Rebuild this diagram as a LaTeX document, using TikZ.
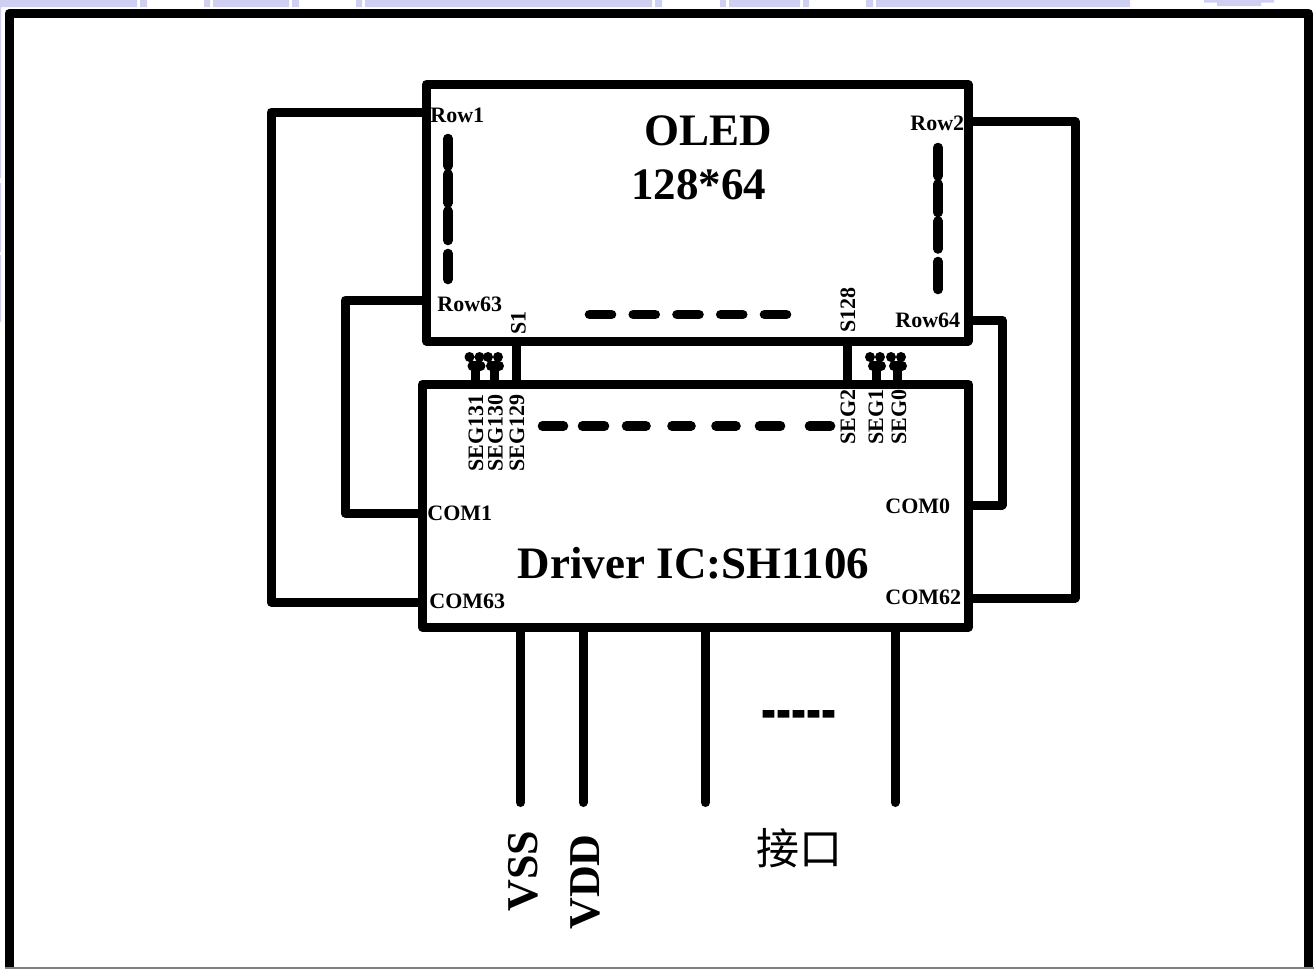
\documentclass[tikz,border=0pt]{standalone}
\usepackage{fontspec}
\setmainfont{Liberation Serif}
\newfontfamily\cjkfont{Noto Sans CJK SC}
\usetikzlibrary{positioning}
\definecolor{tabLilac}{HTML}{CFCFF2}
\tikzset{
  chip/.style={draw, line width=4.5pt, line join=round, outer sep=0pt, inner sep=0pt},
  wire/.style={draw, line width=4.5pt, line join=round},
  pin wire/.style={wire, line cap=round, shorten <=1pt},
  dash bar/.style={wire, line width=4.8pt, line cap=round},
  pin label/.style={inner sep=0pt, font=\fontsize{11}{12}\selectfont\bfseries},
  side label/.style={pin label, anchor=base west},
  up label/.style={pin label, anchor=base west, rotate=90},
  big label/.style={inner sep=0pt, font=\fontsize{22.5}{24}\selectfont\bfseries},
  supply label/.style={inner sep=0pt, anchor=base west, rotate=90, font=\fontsize{22}{24}\selectfont\bfseries},
  tab/.style={fill=tabLilac},
  stub end/.pic={
    \fill (-6,-4) circle (5) (4,-4) circle (5) (-3,5) circle (5) (5,5) circle (5);
  }
}
\begin{document}
\begin{tikzpicture}[x=0.5pt, y=-0.5pt]
  \useasboundingbox (0,0) rectangle (1314,969);
  % tabs along the top and left edge
  \fill[tab] (0,0) rectangle (137,7) (140,0) rectangle (147,7) (204,0) rectangle (210,7)
    (213,0) rectangle (289,7) (292,0) rectangle (299,7) (356,0) rectangle (362,7)
    (365,0) rectangle (652,7) (655,0) rectangle (662,7) (720,0) rectangle (726,7)
    (729,0) rectangle (800,7) (803,0) rectangle (809,7) (866,0) rectangle (873,7)
    (876,0) rectangle (1130,7) (1204,0) rectangle (1274,2.5) (1217,2.5) rectangle (1261,6)
    (0,0) rectangle (1,178) (0,183) rectangle (1,252) (0,255) rectangle (1,322);
  % outer frame
  \draw[wire] (9,969) -- (9,13.5) -- (1308.5,13.5) -- (1308.5,969);
  \draw[gray, line width=0.8pt] (5,968) -- (1314,968);

  \node[chip, minimum width=541.5*0.5pt, minimum height=256.5*0.5pt] (oled) at (697.25,212.75) {};
  \node[chip, minimum width=546*0.5pt, minimum height=242.5*0.5pt] (driver) at (695.5,505.75) {};

  \node[big label] (oledName) at (708.5,131) {OLED};
  \node[big label] (oledSize) at (698.5,185) {128*64};
  \node[big label] (driverName) at (693.5,563) {Driver IC:SH1106};

  % row and com wires
  \coordinate (rowOne) at (426.5,112);
  \coordinate (rowTwo) at (968,121.5);
  \coordinate (rowLeft) at (426.5,300);
  \coordinate (rowRight) at (968,320);
  \coordinate (comOne) at (422.5,513);
  \coordinate (comZero) at (968.5,505);
  \coordinate (comLeft) at (422.5,602);
  \coordinate (comRight) at (968.5,598);
  \draw[wire] (rowOne) -- ++(-155.5,0) |- (comLeft);
  \draw[wire] (rowTwo) -- ++(107,0) |- (comRight);
  \draw[wire] (rowLeft) -- ++(-81.5,0) |- (comOne);
  \draw[wire] (rowRight) -- ++(34,0) |- (comZero);

  \node[side label] (labRowOne) at (430,122) {Row1};
  \node[side label] (labRowTwo) at (910,130) {Row2};
  \node[side label] (labRowLeft) at (437,311) {Row63};
  \node[side label] (labRowRight) at (895,327) {Row64};
  \node[side label] (labComOne) at (427,520) {COM1};
  \node[side label] (labComZero) at (885,513) {COM0};
  \node[side label] (labComLeft) at (429,608) {COM63};
  \node[side label] (labComRight) at (885,604) {COM62};

  % segment wires between the two boxes
  \coordinate (segFirst) at (516.5,341);
  \coordinate (segLast) at (847.5,341);
  \draw[wire] (segFirst) -- (driver.north -| segFirst);
  \draw[wire] (segLast) -- (driver.north -| segLast);
  \coordinate (stubA) at (475.5,361);
  \coordinate (stubB) at (494,361);
  \coordinate (stubC) at (876,361);
  \coordinate (stubD) at (897,361);
  \draw[wire] (driver.north -| stubA) -- (stubA) pic {stub end};
  \draw[wire] (driver.north -| stubB) -- (stubB) pic {stub end};
  \draw[wire] (driver.north -| stubC) -- (stubC) pic {stub end};
  \draw[wire] (driver.north -| stubD) -- (stubD) pic {stub end};

  \node[up label] (labSOne) at (525.5,335) {S1};
  \node[up label] (labSLast) at (855,333) {S128};
  \node[up label] (labSegA) at (483,472) {SEG131};
  \node[up label] (labSegB) at (502.5,472) {SEG130};
  \node[up label] (labSegC) at (524,472) {SEG129};
  \node[up label] (labSegD) at (855,445) {SEG2};
  \node[up label] (labSegE) at (883,445) {SEG1};
  \node[up label] (labSegF) at (906,445) {SEG0};

  % broken lines
  \draw[dash bar] (448,138.5) -- (448,166) (448,174) -- (448,203) (448,211) -- (448,240.5) (448,253.5) -- (448,279.5);
  \draw[dash bar] (938,147.5) -- (938,176) (938,184) -- (938,212.5) (938,221) -- (938,249) (938,261.5) -- (938,289.5);
  \draw[dash bar, dash pattern=on 22*0.5pt off 21.75*0.5pt] (589.5,314.5) -- (786.5,314.5);
  \draw[dash bar] (542.5,426) -- (563.5,426) (582.5,426) -- (604.5,426) (626.5,426) -- (646,426)
    (672,426) -- (691,426) (716,426) -- (736,426) (759.5,426) -- (780.5,426) (809.5,426) -- (830.5,426);

  % interface pins
  \coordinate (pinVss) at (520.5,802.5);
  \coordinate (pinVdd) at (583,802.5);
  \coordinate (pinIfA) at (705.5,802.5);
  \coordinate (pinIfB) at (895,802.5);
  \draw[pin wire] (driver.south -| pinVss) -- (pinVss);
  \draw[pin wire] (driver.south -| pinVdd) -- (pinVdd);
  \draw[pin wire] (driver.south -| pinIfA) -- (pinIfA);
  \draw[pin wire] (driver.south -| pinIfB) -- (pinIfB);

  \node[supply label] (labVss) at (537,912) {VSS};
  \node[supply label] (labVdd) at (599,930) {VDD};
  \node[inner sep=0pt, anchor=base, font=\fontsize{22.5}{24}\selectfont\bfseries] (ifDots) at (799,735) {\scalebox{1}[2]{-{}-{}-{}-{}-}};
  \node[inner sep=0pt, font=\fontsize{21.5}{24}\selectfont\cjkfont] (ifName) at (799,848) {接口};
\end{tikzpicture}
\end{document}
